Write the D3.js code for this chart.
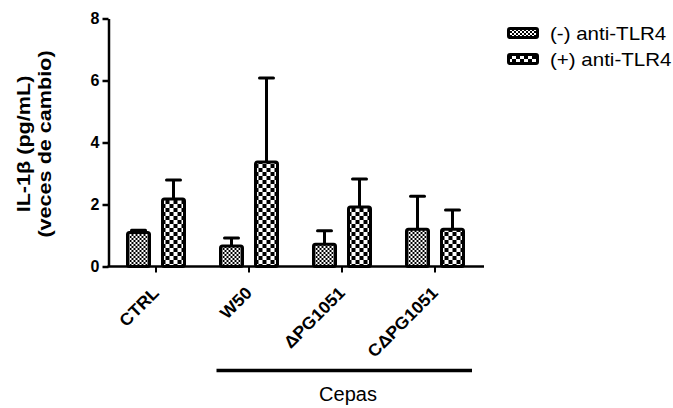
<!DOCTYPE html>
<html>
<head>
<meta charset="utf-8">
<script src="https://cdn.jsdelivr.net/npm/d3@7"></script>
<style>
  html, body { margin: 0; padding: 0; background: #fff; }
  svg { display: block; font-family: Arial, "Liberation Sans", sans-serif; }
</style>
</head>
<body>
<svg id="chart" width="673" height="408"></svg>
<script>
const categories = ["CTRL", "W50", "\u0394PG1051", "C\u0394PG1051"];
const seriesNames = ["(-) anti-TLR4", "(+) anti-TLR4"];
const negMeans = [1.10, 0.66, 0.72, 1.20];
const negErrTop = [1.17, 0.92, 1.15, 2.27];
const posMeans = [2.18, 3.37, 1.92, 1.20];
const posErrTop = [2.79, 6.08, 2.82, 1.82];
const yTicks = [0, 2, 4, 6, 8];
const yLabelLines = ["IL-1\u03B2 (pg/mL)", "(veces de cambio)"];
const groupLabel = "Cepas";

const svg = d3.select("#chart");
const defs = svg.append("defs");

// fine checker pattern
const p1 = defs.append("pattern").attr("id", "pNeg").attr("patternUnits", "userSpaceOnUse")
  .attr("width", 4).attr("height", 4);
p1.append("rect").attr("width", 4).attr("height", 4).attr("fill", "#fff");
p1.append("rect").attr("x", 0).attr("y", 0).attr("width", 2).attr("height", 2).attr("fill", "#000");
p1.append("rect").attr("x", 2).attr("y", 2).attr("width", 2).attr("height", 2).attr("fill", "#000");
// coarse checker pattern
const p2 = defs.append("pattern").attr("id", "pPos").attr("patternUnits", "userSpaceOnUse")
  .attr("width", 8).attr("height", 8);
p2.append("rect").attr("width", 8).attr("height", 8).attr("fill", "#fff");
p2.append("rect").attr("x", 0).attr("y", 0).attr("width", 4).attr("height", 4).attr("fill", "#000");
p2.append("rect").attr("x", 4).attr("y", 4).attr("width", 4).attr("height", 4).attr("fill", "#000");
const fills = ["url(#pNeg)", "url(#pPos)"];

const y = d3.scaleLinear().domain([0, 8]).range([266.5, 18.5]);
const x0 = d3.scaleBand().domain(categories).range([109.5, 481.5]);
const x1 = d3.scaleBand().domain(seriesNames).range([18, 75]).paddingInner(13 / 35);

const data = categories.map((c, i) => ({
  cat: c,
  vals: [
    { s: seriesNames[0], m: negMeans[i], e: negErrTop[i] },
    { s: seriesNames[1], m: posMeans[i], e: posErrTop[i] }
  ]
}));

// Y axis
const yAxis = d3.axisLeft(y).tickValues(yTicks).tickSize(6).tickSizeOuter(0).tickPadding(3);
const gy = svg.append("g").attr("transform", "translate(108.5,0)").call(yAxis);
gy.select(".domain").attr("stroke", "#000").attr("stroke-width", 2.5);
gy.selectAll(".tick line").attr("stroke", "#000").attr("stroke-width", 2.5);
gy.selectAll(".tick text").attr("font-size", 16).attr("font-weight", "bold").attr("fill", "#000")
  .attr("font-family", "Arial, 'Liberation Sans', sans-serif");

// Bars
const groups = svg.append("g").selectAll("g").data(data).join("g")
  .attr("transform", d => `translate(${x0(d.cat)},0)`);

groups.selectAll("line.err").data(d => d.vals).join("line").attr("class", "err")
  .attr("x1", d => x1(d.s) + x1.bandwidth() / 2).attr("x2", d => x1(d.s) + x1.bandwidth() / 2)
  .attr("y1", d => y(d.m)).attr("y2", d => y(d.e))
  .attr("stroke", "#000").attr("stroke-width", 3);
groups.selectAll("line.cap").data(d => d.vals).join("line").attr("class", "cap")
  .attr("x1", d => x1(d.s) + x1.bandwidth() / 2 - 7).attr("x2", d => x1(d.s) + x1.bandwidth() / 2 + 7)
  .attr("y1", d => y(d.e)).attr("y2", d => y(d.e))
  .attr("stroke", "#000").attr("stroke-width", 3).attr("stroke-linecap", "round");

groups.selectAll("rect.bar").data(d => d.vals).join("rect").attr("class", "bar")
  .attr("x", d => x1(d.s)).attr("width", x1.bandwidth())
  .attr("y", d => y(d.m)).attr("height", d => y(0) - y(d.m))
  .attr("rx", 2)
  .attr("fill", (d, i) => fills[i]).attr("stroke", "#000").attr("stroke-width", 3);

// X axis
const xAxis = d3.axisBottom(x0).tickSize(6).tickSizeOuter(0).tickFormat(() => "");
const gx = svg.append("g").attr("transform", "translate(0,266.5)").call(xAxis);
gx.select(".domain").attr("stroke", "#000").attr("stroke-width", 2.5).attr("d", "M107.5,0H484");
gx.selectAll(".tick line").attr("stroke", "#000").attr("stroke-width", 2);

svg.append("g").selectAll("text").data(categories).join("text")
  .attr("transform", d => `translate(${x0(d) + x0.bandwidth() / 2 + 4},294) rotate(-45) scale(1.05,1)`)
  .attr("text-anchor", "end")
  .attr("font-size", 17).attr("font-weight", "bold").attr("fill", "#000")
  .text(d => d);

// Group line + label
svg.append("line").attr("x1", x0(categories[1]) + 14).attr("x2", x0(categories[3]) + x0.bandwidth() - 9.5)
  .attr("y1", 370.5).attr("y2", 370.5).attr("stroke", "#000").attr("stroke-width", 3.5);
svg.append("text").attr("x", 348).attr("y", 401).attr("text-anchor", "middle")
  .attr("font-size", 20).attr("fill", "#000").text(groupLabel);

// Y label
const yl = svg.append("text").attr("transform", "translate(0,144) rotate(-90) scale(1.2,1)")
  .attr("text-anchor", "middle").attr("font-size", 18).attr("font-weight", "bold").attr("fill", "#000");
yl.selectAll("tspan").data(yLabelLines).join("tspan")
  .attr("x", 0).attr("y", (d, i) => 30 + i * 21).text(d => d);

// Legend
const lg = svg.append("g").selectAll("g").data(seriesNames).join("g")
  .attr("transform", (d, i) => `translate(0,${33 + i * 26})`);
lg.append("rect").attr("x", 508.5).attr("y", -4.5).attr("width", 29).attr("height", 9).attr("rx", 1.5)
  .attr("fill", (d, i) => fills[i]).attr("stroke", "#000").attr("stroke-width", 3);
lg.append("text").attr("transform", "translate(550,7) scale(1.14,1)")
  .attr("font-size", 18).attr("fill", "#000").text(d => d);
</script>
</body>
</html>
